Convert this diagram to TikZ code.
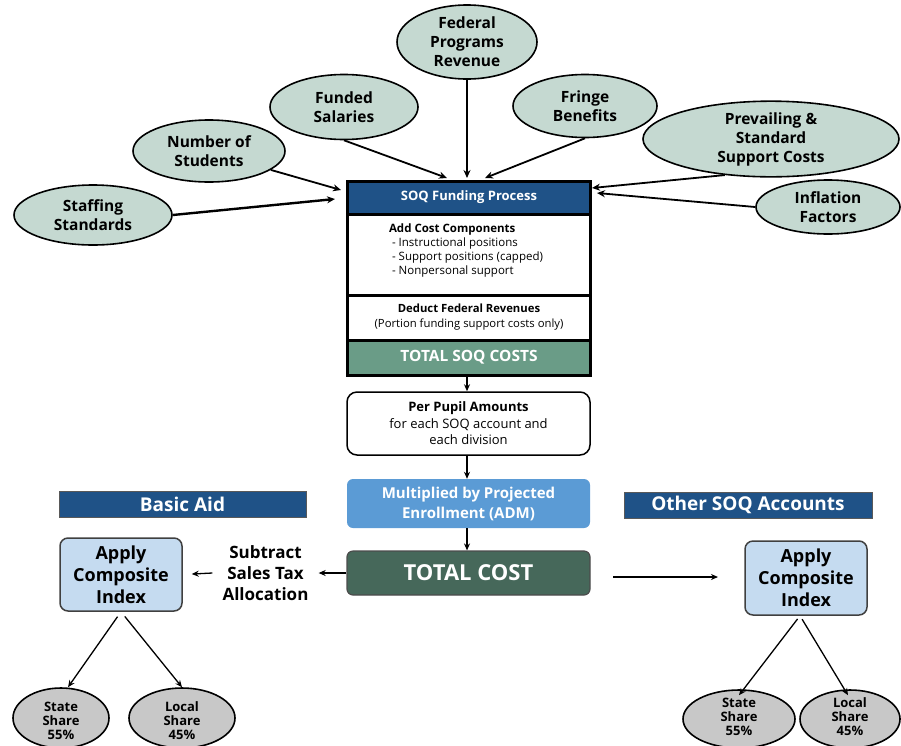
\documentclass[tikz,border=0pt]{standalone}
\usepackage{fontspec}
\setmainfont{Open Sans}
\usetikzlibrary{shapes.geometric,arrows.meta}
\definecolor{hdrblue}{HTML}{1F5287}
\definecolor{soqgreen}{HTML}{6A9C87}
\definecolor{tcgreen}{HTML}{46685A}
\definecolor{mulblue}{HTML}{5B9BD5}
\definecolor{ellfill}{HTML}{C5D9D1}
\definecolor{sharefill}{HTML}{C8C8C8}
\definecolor{applyfill}{HTML}{C5DBF0}
\tikzset{
  inp/.style={ellipse, draw=black, line width=1.6pt, fill=ellfill, inner sep=0pt, align=center,
    font=\fontsize{15.5}{19}\selectfont\bfseries},
  arr/.style={-{Stealth[length=8pt,width=7pt]}, line width=1.8pt},
  arrs/.style={-{Stealth[length=7pt,width=6pt]}, line width=1.3pt},
  sec/.style={rectangle, draw=black, line width=3pt, minimum width=243pt, inner sep=0pt, align=center},
  flow/.style={rectangle, rounded corners=6pt, minimum width=243pt, inner sep=0pt, align=center},
  banner/.style={rectangle, fill=hdrblue, draw=gray!70!black, line width=0.8pt, inner sep=0pt,
    text=white, font=\fontsize{19}{22}\selectfont\bfseries},
  applybox/.style={rectangle, rounded corners=8pt, fill=applyfill, draw=black!75, line width=1.5pt,
    minimum width=122pt, inner sep=0pt, align=center, font=\fontsize{18}{22}\selectfont\bfseries},
  share/.style={ellipse, fill=sharefill, draw=black, line width=1.6pt, inner sep=0pt, align=center},
  sharetext/.style={font=\fontsize{13}{14}\selectfont\bfseries, align=center, inner sep=0pt},
}
\begin{document}
\begin{tikzpicture}[x=1pt,y=-1pt]
\useasboundingbox (0,0) rectangle (901,745);

% input ellipses
\node[inp, minimum width=158pt, minimum height=60pt] (staff) at (93,215) {Staffing\\Standards};
\node[inp, minimum width=152pt, minimum height=62pt] (nos) at (209,151) {Number of\\Students};
\node[inp, minimum width=148pt, minimum height=65pt] (fs) at (344,107) {Funded\\Salaries};
\node[inp, minimum width=140pt, minimum height=74pt] (fed) at (467,42) {Federal\\Programs\\Revenue};
\node[inp, minimum width=144pt, minimum height=63pt] (fb) at (585,106) {Fringe\\Benefits};
\node[inp, minimum width=256pt, minimum height=72pt] (psc) at (771,139) {Prevailing \&\\Standard\\Support Costs};
\node[inp, minimum width=144pt, minimum height=54pt] (inf) at (828,207) {Inflation\\Factors};

% main SOQ box
\node[sec, fill=hdrblue, minimum height=33pt, text=white, font=\fontsize{13}{15}\selectfont\bfseries]
  (hdr) at (469,197.5) {SOQ Funding Process};
\node[sec, fill=white, minimum height=81pt] (sec1) at (469,254.5) {};
\node[align=left, font=\fontsize{11.5}{14}\selectfont, inner sep=0pt] (sec1t) at (466,250.5)
  {\textbf{Add Cost Components}\\[-0.5pt]
   \ - Instructional positions\\
   \ - Support positions (capped)\\
   \ - Nonpersonal support};
\node[sec, fill=white, minimum height=45pt, font=\fontsize{11.3}{15}\selectfont] (sec2) at (469,317.5)
  {\textbf{Deduct Federal Revenues}\\(Portion funding support costs only)};
\node[sec, fill=soqgreen, minimum height=35pt, text=white, font=\fontsize{15.5}{17}\selectfont\bfseries]
  (sec3) at (469,357.5) {TOTAL SOQ COSTS};

% flow column
\node[flow, rounded corners=10pt, draw=black, line width=1.5pt, fill=white, minimum height=63pt,
  font=\fontsize{13}{16.5}\selectfont] (pp) at (468.5,423.5)
  {\textbf{Per Pupil Amounts}\\for each SOQ account and\\each division};
\node[flow, fill=mulblue, minimum height=49pt, text=white, font=\fontsize{15}{20}\selectfont\bfseries]
  (mul) at (468.5,503.5) {Multiplied by Projected\\Enrollment (ADM)};
\node[flow, fill=tcgreen, draw=black!70, line width=1.2pt, minimum height=44pt, text=white,
  font=\fontsize{22}{24}\selectfont\bfseries] (tc) at (468.5,573) {TOTAL COST};

% target points on main box
\coordinate (t1) at (335,199);
\coordinate (t2) at (341,190);
\coordinate (t3) at (447,178);
\coordinate (t4) at (467,178);
\coordinate (t5) at (485,178);
\coordinate (t6) at (592,188);
\coordinate (t7) at (597,193);

\draw[arr, line width=2.4pt] (staff.east) -- (t1);
\draw[arr] (nos.-17) -- (t2);
\draw[arr] (fs.south) -- (t3);
\draw[arr] (fed.south) -- (t4);
\draw[arr] (fb.south) -- (t5);
\draw[arr] (psc.218) -- (t6);
\draw[arr] (inf.west) -- (t7);

\draw[arrs] (sec3.south -| pp.north) ++(-1.5,0) coordinate (c1) -- (c1 |- pp.north);
\draw[arrs] (pp.south) ++(-1.5,0) coordinate (c2) -- (c2 |- mul.north);
\draw[arrs] (mul.south) ++(-1.5,0) coordinate (c3) -- (c3 |- tc.north);

% Basic Aid side
\node[banner, minimum width=247pt, minimum height=26pt] (ba) at (182.5,504) {Basic Aid};
\node[applybox, minimum height=73pt] (apL) at (121,574.5) {Apply\\Composite\\Index};
\node[align=center, inner sep=10pt, font=\fontsize{17}{21}\selectfont\bfseries] (sub) at (265.5,573)
  {Subtract\\Sales Tax\\Allocation};
\draw[arrs] (tc.west) -- (sub.east);
\draw[arrs, shorten >=9pt] (sub.west) -- (apL.east);

\node[share, minimum width=96pt, minimum height=60pt] (ssL) at (61,718) {};
\node[share, minimum width=106pt, minimum height=60pt] (lsL) at (182,718) {};
\node[sharetext] (ssLt) at (61,721) {State\\Share\\55\%};
\node[sharetext] (lsLt) at (182,721) {Local\\Share\\45\%};
\draw[arrs, shorten <=6pt] (apL.south) -- ([xshift=7pt]ssL.north);
\draw[arrs, shorten <=6pt] (apL.south) -- (lsL.north);

% Other SOQ side
\node[banner, minimum width=248pt, minimum height=26pt] (oa) at (748,505) {Other SOQ Accounts};
\node[applybox, minimum height=74pt] (apR) at (806,578) {Apply\\Composite\\Index};
\coordinate (r1) at (613,577);
\coordinate (r2) at (718,577);
\draw[arrs] (r1) -- (r2);

\node[share, minimum width=112pt, minimum height=58pt] (ssR) at (739,719) {};
\node[share, minimum width=100pt, minimum height=58pt] (lsR) at (850,719) {};
\node[sharetext] (ssRt) at (739,717) {State\\Share\\55\%};
\node[sharetext] (lsRt) at (850,717) {Local\\Share\\45\%};
\draw[arrs, shorten <=4pt] ([xshift=-6pt]apR.south) -- ([yshift=-6pt]ssR.north);
\draw[arrs, shorten <=4pt] ([xshift=-6pt]apR.south) -- ([xshift=-2pt,yshift=-6pt]lsR.north);
\end{tikzpicture}
\end{document}
